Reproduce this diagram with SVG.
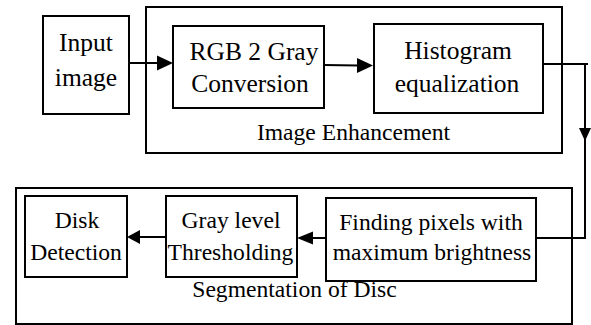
<svg xmlns="http://www.w3.org/2000/svg" width="591" height="325" viewBox="0 0 591 325" font-family="'Liberation Serif', 'Times New Roman', serif">
<style>
.box{fill:#fff;stroke:#000;stroke-width:2}
.frame{fill:none;stroke:#000;stroke-width:2}
text{font-family:"Liberation Serif","Times New Roman",serif;fill:#000;text-anchor:middle}
.big{font-size:25.5px}
.sm{font-size:23.6px}
.c{fill:none;stroke:#000;stroke-width:2}
.ah{fill:#000;stroke:none}
</style>
<g id="image-enhancement">
<rect class="frame" x="146" y="7" width="416" height="146"/>
<text class="sm" x="353.5" y="140">Image Enhancement</text>
</g>
<g id="segmentation-of-disc">
<rect class="frame" x="16" y="188" width="556" height="136"/>
<text class="sm" x="294.5" y="297">Segmentation of Disc</text>
</g>
<g id="input-image">
<rect class="box" x="43" y="16" width="86" height="98"/>
<text class="big" x="86" y="51">Input</text>
<text class="big" x="86" y="86">image</text>
</g>
<g id="rgb2gray">
<rect class="box" x="173" y="26" width="151" height="82"/>
<text class="big" x="254" y="60">RGB 2 Gray</text>
<text class="big" x="250" y="92">Conversion</text>
</g>
<g id="histogram">
<rect class="box" x="374" y="24" width="169" height="89"/>
<text class="big" x="458" y="59">Histogram</text>
<text class="big" x="457" y="92">equalization</text>
</g>
<g id="finding-pixels">
<rect class="box" x="326" y="198" width="210" height="83"/>
<text class="sm" x="431" y="230">Finding pixels with</text>
<text class="sm" x="432" y="260">maximum brightness</text>
</g>
<g id="gray-level">
<rect class="box" x="166" y="196" width="131" height="81"/>
<text class="sm" x="231" y="228">Gray level</text>
<text class="sm" x="230.5" y="260">Thresholding</text>
</g>
<g id="disk-detection">
<rect class="box" x="25" y="196" width="102" height="81"/>
<text class="sm" x="77" y="228">Disk</text>
<text class="sm" x="76" y="260">Detection</text>
</g>
<g id="connectors">
<line class="c" x1="130" y1="63" x2="158" y2="63"/>
<polygon class="ah" points="157,55.5 173,63 157,70.5"/>
<line class="c" x1="324" y1="65" x2="358" y2="65.5"/>
<polygon class="ah" points="357,58 373,65.5 357,73"/>
<path class="c" d="M543,64 H588 M585,64 V238 H536"/>
<polygon class="ah" points="579,128 591,128 585,141"/>
<line class="c" x1="326" y1="238" x2="312" y2="238"/>
<polygon class="ah" points="313,231.5 297,238 313,244.5"/>
<line class="c" x1="166" y1="237" x2="139" y2="237"/>
<polygon class="ah" points="140,230 127,237 140,244"/>
</g>
</svg>
